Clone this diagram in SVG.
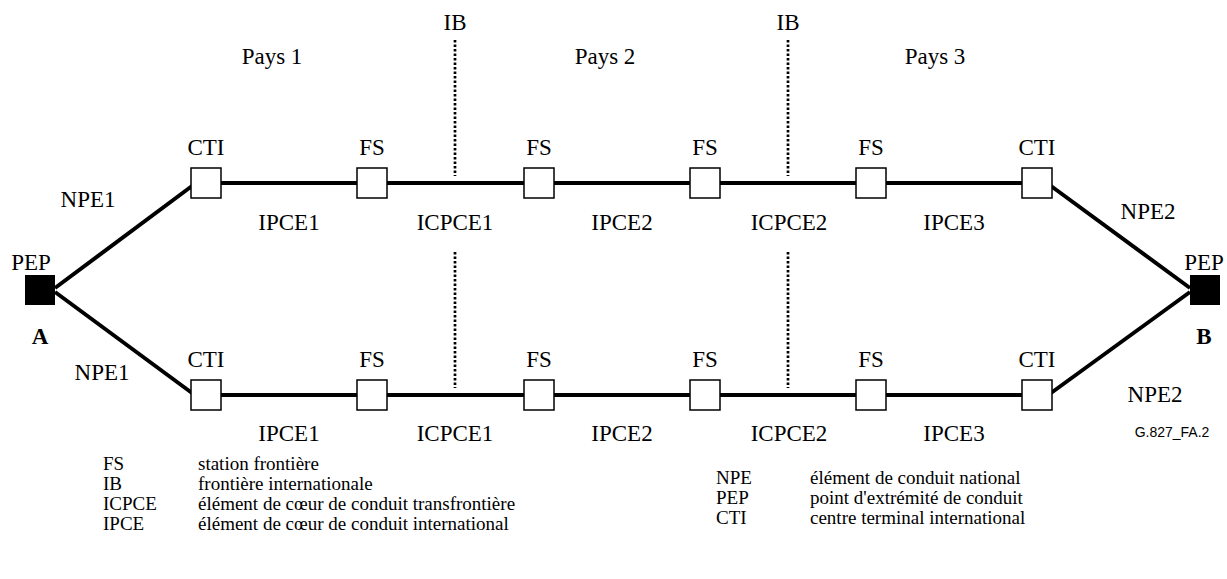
<svg xmlns="http://www.w3.org/2000/svg" width="1227" height="579" viewBox="0 0 1227 579">
  <style>
    .lbl { font-family: "Liberation Serif", "Times New Roman", serif; font-size: 23px; fill: #000; text-anchor: middle; }
    .bold { font-weight: bold; }
    .leg { font-family: "Liberation Serif", "Times New Roman", serif; font-size: 19px; fill: #000; }
    .ref { font-family: "Liberation Sans", Arial, sans-serif; font-size: 14px; fill: #000; text-anchor: middle; }
    .path { stroke: #000; stroke-width: 4; fill: none; }
    .ib { stroke: #000; stroke-width: 2.7; stroke-dasharray: 2.5 2; fill: none; }
    .box { fill: #fff; stroke: #000; stroke-width: 1.5; }
    .pep { fill: #000; }
  </style>

  <!-- country boundaries -->
  <g id="boundaries">
    <text class="lbl" x="455" y="30">IB</text>
    <text class="lbl" x="788" y="30">IB</text>
    <line class="ib" x1="455" y1="40" x2="455" y2="176"/>
    <line class="ib" x1="788" y1="40" x2="788" y2="176"/>
    <line class="ib" x1="455" y1="252" x2="455" y2="388"/>
    <line class="ib" x1="788" y1="252" x2="788" y2="388"/>
    <text class="lbl" x="272" y="64">Pays 1</text>
    <text class="lbl" x="605" y="64">Pays 2</text>
    <text class="lbl" x="935" y="64">Pays 3</text>
  </g>

  <!-- connectors: national and international path elements -->
  <g id="connectors">
    <line class="path" x1="55" y1="288" x2="192" y2="186"/>
    <line class="path" x1="55" y1="292" x2="192" y2="393"/>
    <line class="path" x1="1051" y1="186" x2="1190" y2="288"/>
    <line class="path" x1="1051" y1="393" x2="1190" y2="292"/>
    <line class="path" x1="221" y1="183" x2="1022" y2="183"/>
    <line class="path" x1="221" y1="395" x2="1022" y2="395"/>
  </g>

  <!-- path end points -->
  <g id="pep-a">
    <rect class="pep" x="25" y="275" width="30" height="30"/>
    <text class="lbl" x="31" y="270">PEP</text>
    <text class="lbl bold" x="40" y="344">A</text>
  </g>
  <g id="pep-b">
    <rect class="pep" x="1190" y="275" width="30" height="30"/>
    <text class="lbl" x="1204" y="270">PEP</text>
    <text class="lbl bold" x="1204" y="344">B</text>
  </g>

  <!-- upper path nodes -->
  <g id="top-cti-1"><rect class="box" x="191" y="168" width="30" height="30"/><text class="lbl" x="206" y="155">CTI</text></g>
  <g id="top-fs-1"><rect class="box" x="357" y="168" width="30" height="30"/><text class="lbl" x="372" y="155">FS</text></g>
  <g id="top-fs-2"><rect class="box" x="524" y="168" width="30" height="30"/><text class="lbl" x="539" y="155">FS</text></g>
  <g id="top-fs-3"><rect class="box" x="690" y="168" width="30" height="30"/><text class="lbl" x="705" y="155">FS</text></g>
  <g id="top-fs-4"><rect class="box" x="856" y="168" width="30" height="30"/><text class="lbl" x="871" y="155">FS</text></g>
  <g id="top-cti-2"><rect class="box" x="1022" y="168" width="30" height="30"/><text class="lbl" x="1037" y="155">CTI</text></g>

  <!-- lower path nodes -->
  <g id="bot-cti-1"><rect class="box" x="191" y="380" width="30" height="30"/><text class="lbl" x="206" y="367">CTI</text></g>
  <g id="bot-fs-1"><rect class="box" x="357" y="380" width="30" height="30"/><text class="lbl" x="372" y="367">FS</text></g>
  <g id="bot-fs-2"><rect class="box" x="524" y="380" width="30" height="30"/><text class="lbl" x="539" y="367">FS</text></g>
  <g id="bot-fs-3"><rect class="box" x="690" y="380" width="30" height="30"/><text class="lbl" x="705" y="367">FS</text></g>
  <g id="bot-fs-4"><rect class="box" x="856" y="380" width="30" height="30"/><text class="lbl" x="871" y="367">FS</text></g>
  <g id="bot-cti-2"><rect class="box" x="1022" y="380" width="30" height="30"/><text class="lbl" x="1037" y="367">CTI</text></g>

  <!-- segment labels -->
  <g id="segment-labels">
    <text class="lbl" x="88" y="207">NPE1</text>
    <text class="lbl" x="102" y="380">NPE1</text>
    <text class="lbl" x="1148" y="219">NPE2</text>
    <text class="lbl" x="1155" y="402">NPE2</text>
    <text class="lbl" x="289" y="230">IPCE1</text>
    <text class="lbl" x="455" y="230">ICPCE1</text>
    <text class="lbl" x="622" y="230">IPCE2</text>
    <text class="lbl" x="789" y="230">ICPCE2</text>
    <text class="lbl" x="954" y="230">IPCE3</text>
    <text class="lbl" x="289" y="441">IPCE1</text>
    <text class="lbl" x="455" y="441">ICPCE1</text>
    <text class="lbl" x="622" y="441">IPCE2</text>
    <text class="lbl" x="789" y="441">ICPCE2</text>
    <text class="lbl" x="954" y="441">IPCE3</text>
  </g>

  <text class="ref" x="1172" y="437">G.827_FA.2</text>

  <!-- legend -->
  <g id="legend">
    <text class="leg" x="103" y="470">FS</text>
    <text class="leg" x="198" y="470">station frontière</text>
    <text class="leg" x="103" y="490">IB</text>
    <text class="leg" x="198" y="490">frontière internationale</text>
    <text class="leg" x="103" y="510">ICPCE</text>
    <text class="leg" x="198" y="510">élément de cœur de conduit transfrontière</text>
    <text class="leg" x="103" y="530">IPCE</text>
    <text class="leg" x="198" y="530">élément de cœur de conduit international</text>
    <text class="leg" x="716" y="484">NPE</text>
    <text class="leg" x="810" y="484">élément de conduit national</text>
    <text class="leg" x="716" y="504">PEP</text>
    <text class="leg" x="810" y="504">point d'extrémité de conduit</text>
    <text class="leg" x="716" y="524">CTI</text>
    <text class="leg" x="810" y="524">centre terminal international</text>
  </g>
</svg>
